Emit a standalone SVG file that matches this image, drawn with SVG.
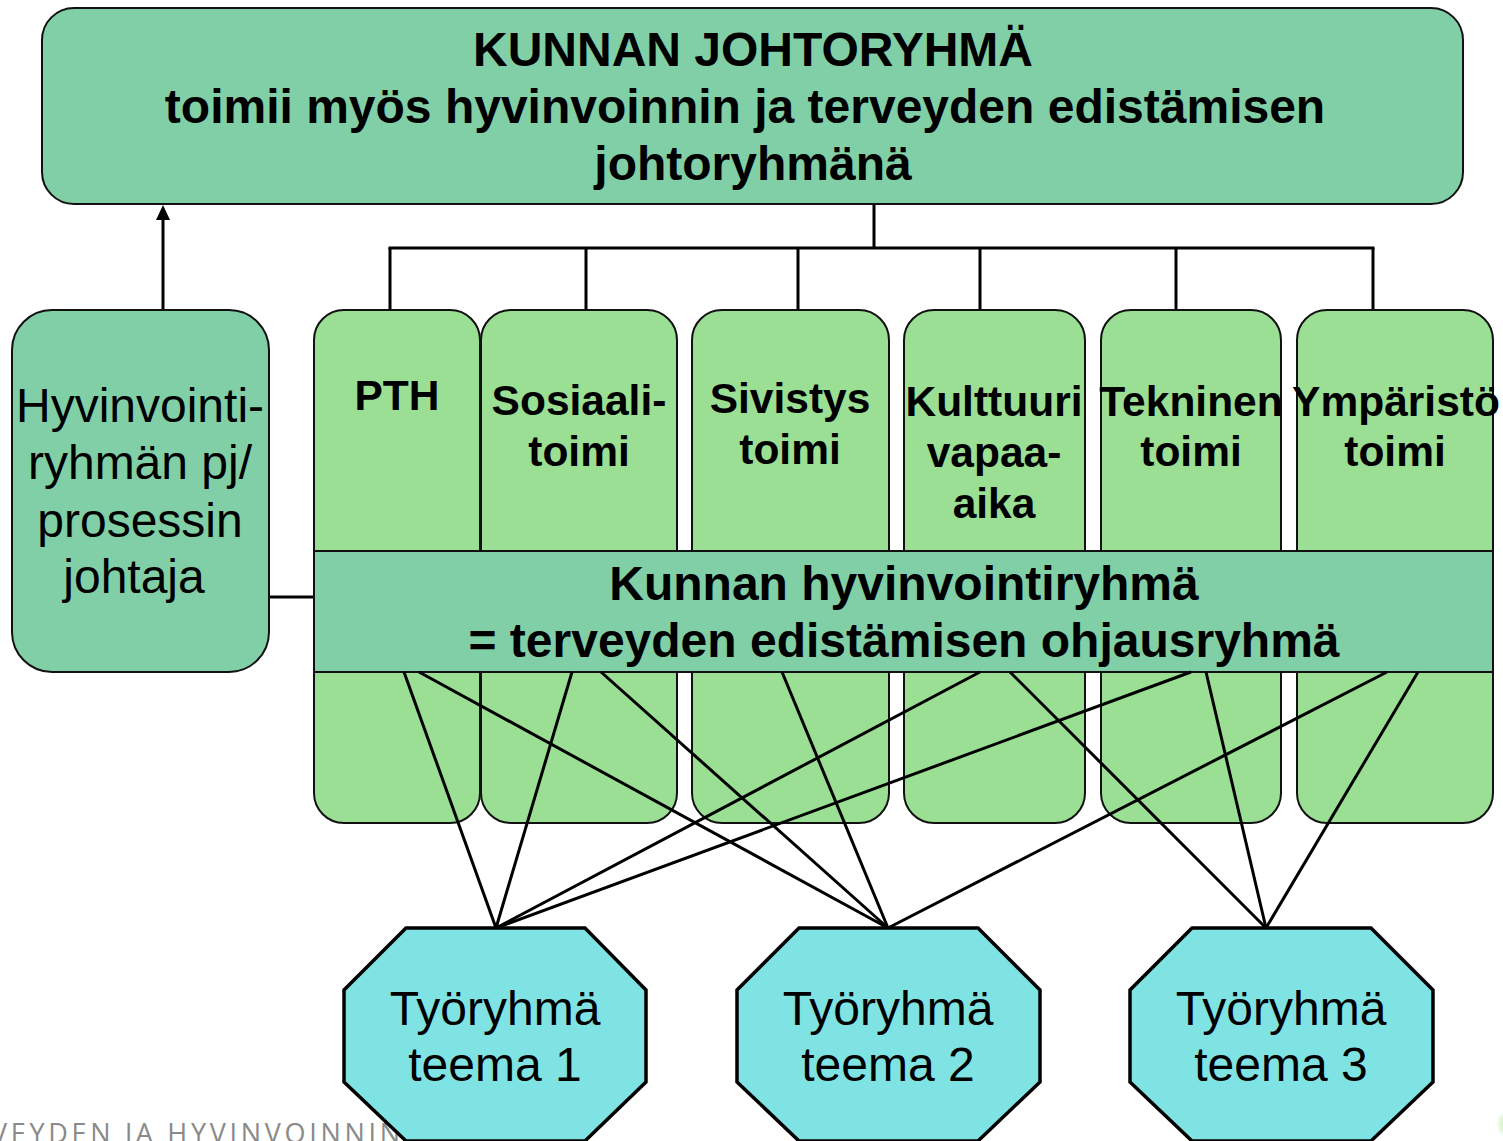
<svg xmlns="http://www.w3.org/2000/svg" width="1503" height="1141" viewBox="0 0 1503 1141">
<style>
.box{stroke:#111;stroke-width:2}
.mid{fill:#80CFA6}
.dept{fill:#9ADF93}
.oct{fill:#80E3E3;stroke:#000;stroke-width:3.5}
.ln{stroke:#000;stroke-width:3;fill:none}
.b{font-family:"Liberation Sans",Arial,sans-serif;font-weight:bold;fill:#000;text-anchor:middle}
.r{font-family:"Liberation Sans",Arial,sans-serif;fill:#000;text-anchor:middle}
.t47{font-size:48px}
.t41{font-size:42.5px}
</style>
<defs>
<marker id="arr" markerWidth="14" markerHeight="15" refX="7" refY="15" orient="0" markerUnits="userSpaceOnUse" viewBox="0 0 14 15">
<path d="M0,15 L7,0 L14,15 Z" fill="#000"/>
</marker>
<radialGradient id="glow" cx="0.5" cy="0.5" r="0.5">
<stop offset="0" stop-color="#8fdc6a" stop-opacity="0.9"/>
<stop offset="1" stop-color="#8fdc6a" stop-opacity="0"/>
</radialGradient>
</defs>
<rect width="1503" height="1141" fill="#fff"/>

<text x="-9" y="1143" font-family="'Open Sans',sans-serif" font-size="27" fill="#8a8a8a" textLength="409" lengthAdjust="spacing">VEYDEN JA HYVINVOINNIN</text>
<circle cx="1512" cy="1124" r="16" fill="url(#glow)"/>

<g id="connectors">
<line class="ln" x1="874" y1="204" x2="874" y2="248"/>
<line class="ln" x1="388.5" y1="248" x2="1374.5" y2="248"/>
<line class="ln" x1="390" y1="248" x2="390" y2="310"/>
<line class="ln" x1="586" y1="248" x2="586" y2="310"/>
<line class="ln" x1="798" y1="248" x2="798" y2="310"/>
<line class="ln" x1="980" y1="248" x2="980" y2="310"/>
<line class="ln" x1="1176" y1="248" x2="1176" y2="310"/>
<line class="ln" x1="1373" y1="248" x2="1373" y2="310"/>
<line class="ln" x1="163" y1="310" x2="163" y2="220" stroke-width="3.5" marker-end="url(#arr)"/>
<line class="ln" x1="269" y1="597" x2="314" y2="597"/>
</g>

<g id="node-top">
<rect class="box mid" x="42" y="8" width="1421" height="196" rx="32"/>
<text class="b t47" x="753" y="66">KUNNAN JOHTORYHMÄ</text>
<text class="b t47" x="745" y="123">toimii myös hyvinvoinnin ja terveyden edistämisen</text>
<text class="b t47" x="753" y="180">johtoryhmänä</text>
</g>

<g id="node-leader">
<rect class="box mid" x="12" y="310" width="257" height="362" rx="40"/>
<text class="r t47" x="140" y="422">Hyvinvointi-</text>
<text class="r t47" x="140" y="479">ryhmän pj/</text>
<text class="r t47" x="140" y="537">prosessin</text>
<text class="r t47" x="134" y="593">johtaja</text>
</g>

<g id="node-pth">
<rect class="box dept" x="314" y="310" width="166" height="513" rx="30"/>
<text class="b t41" x="397" y="410">PTH</text>
</g>
<g id="node-sosiaali">
<rect class="box dept" x="481" y="310" width="196" height="513" rx="30"/>
<text class="b t41" x="579" y="415">Sosiaali-</text>
<text class="b t41" x="579" y="466">toimi</text>
</g>
<g id="node-sivistys">
<rect class="box dept" x="692" y="310" width="197" height="513" rx="30"/>
<text class="b t41" x="790" y="413">Sivistys</text>
<text class="b t41" x="790" y="464">toimi</text>
</g>
<g id="node-kulttuuri">
<rect class="box dept" x="904" y="310" width="181" height="513" rx="30"/>
<text class="b t41" x="994" y="416">Kulttuuri</text>
<text class="b t41" x="994" y="467">vapaa-</text>
<text class="b t41" x="994" y="518">aika</text>
</g>
<g id="node-tekninen">
<rect class="box dept" x="1101" y="310" width="180" height="513" rx="30"/>
<text class="b t41" x="1191" y="416">Tekninen</text>
<text class="b t41" x="1191" y="466">toimi</text>
</g>
<g id="node-ymparisto">
<rect class="box dept" x="1297" y="310" width="196" height="513" rx="30"/>
<text class="b t41" x="1396" y="416">Ympäristö</text>
<text class="b t41" x="1395" y="466">toimi</text>
</g>

<g id="node-band">
<rect class="box mid" x="314" y="551" width="1179" height="121"/>
<text class="b t47" x="904" y="600">Kunnan hyvinvointiryhmä</text>
<text class="b t47" x="904" y="657">= terveyden edistämisen ohjausryhmä</text>
</g>

<g id="links">
<line class="ln" x1="404" y1="672" x2="496" y2="928"/>
<line class="ln" x1="572" y1="672" x2="496" y2="928"/>
<line class="ln" x1="980" y1="672" x2="496" y2="928"/>
<line class="ln" x1="1191" y1="672" x2="496" y2="928"/>
<line class="ln" x1="419" y1="672" x2="888" y2="928"/>
<line class="ln" x1="601" y1="672" x2="888" y2="928"/>
<line class="ln" x1="782" y1="672" x2="888" y2="928"/>
<line class="ln" x1="1387" y1="672" x2="888" y2="928"/>
<line class="ln" x1="1010" y1="672" x2="1266" y2="928"/>
<line class="ln" x1="1206" y1="672" x2="1266" y2="928"/>
<line class="ln" x1="1418" y1="672" x2="1266" y2="928"/>
</g>

<g id="node-teema1">
<polygon class="oct" points="406,928 585,928 646,990 646,1082 585,1141 406,1141 344,1082 344,990"/>
<text class="r t47" x="495" y="1025">Työryhmä</text>
<text class="r t47" x="495" y="1081">teema 1</text>
</g>
<g id="node-teema2">
<polygon class="oct" points="799,928 978,928 1040,990 1040,1082 978,1141 799,1141 737,1082 737,990"/>
<text class="r t47" x="888" y="1025">Työryhmä</text>
<text class="r t47" x="888" y="1081">teema 2</text>
</g>
<g id="node-teema3">
<polygon class="oct" points="1192,928 1371,928 1433,990 1433,1082 1371,1141 1192,1141 1130,1082 1130,990"/>
<text class="r t47" x="1281" y="1025">Työryhmä</text>
<text class="r t47" x="1281" y="1081">teema 3</text>
</g>
</svg>
